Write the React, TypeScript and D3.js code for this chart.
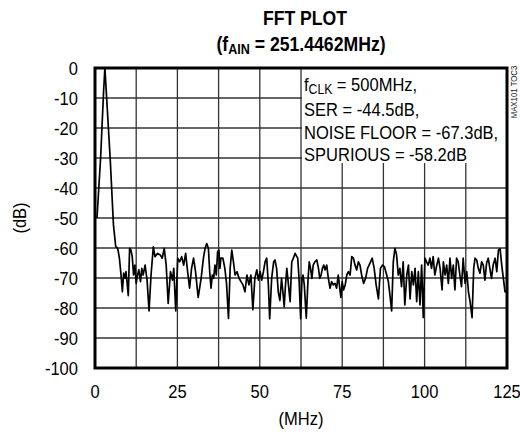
import React from "react";
import * as d3 from "d3";

const freqMHz: number[] = [
  0.6, 1.7, 2.6, 3.0, 4.6, 5.6, 6.3, 6.9, 7.4, 7.9, 8.3, 8.7, 9.1, 9.4, 9.7, 10.1, 10.5, 10.9, 11.3, 11.7,
  12.1, 12.5, 12.9, 13.3, 13.8, 14.2, 14.6, 15.2, 15.8, 16.4, 17.0, 17.7, 18.2, 19.0, 19.8, 20.4, 21.0, 21.6,
  22.2, 22.9, 23.5, 23.9, 24.5, 25.1, 25.7, 26.3, 26.9, 27.5, 28.1, 28.7, 29.3, 29.9, 30.5, 31.3, 32.2, 32.9,
  33.4, 33.9, 34.4, 34.8, 35.2, 35.6, 36.0, 36.4, 36.8, 37.2, 37.6, 37.9, 38.2, 38.8, 39.4, 39.9, 40.5, 41.0,
  41.5, 42.0, 42.5, 43.1, 43.7, 44.3, 44.9, 45.5, 46.1, 46.7, 47.3, 47.9, 48.5, 49.1, 49.6, 50.1, 50.6, 51.1,
  51.6, 52.1, 52.6, 53.0, 53.6, 54.2, 54.6, 55.1, 55.6, 56.1, 56.6, 57.1, 57.4, 57.8, 58.2, 58.6, 59.2, 59.7,
  60.2, 60.7, 61.5, 61.9, 62.4, 62.8, 63.1, 63.5, 64.1, 64.6, 65.0, 65.4, 65.8, 66.2, 66.7, 67.3, 67.8, 68.2,
  68.6, 69.0, 69.4, 69.8, 70.3, 70.8, 71.3, 71.8, 72.3, 72.8, 73.3, 73.8, 74.2, 74.6, 75.0, 75.4, 75.9, 76.4,
  76.9, 77.4, 77.9, 78.4, 78.9, 79.4, 79.9, 80.4, 80.9, 81.5, 82.1, 82.7, 83.4, 84.1, 84.7, 85.3, 86.0, 86.6,
  87.2, 87.8, 88.5, 89.0, 89.6, 90.0, 90.5, 91.0, 91.5, 92.0, 92.5, 93.0, 93.5, 94.0, 94.6, 95.1, 95.6, 96.1,
  96.6, 97.1, 97.6, 98.1, 98.6, 99.1, 99.6, 100.1, 100.6, 101.1, 101.6, 102.1, 102.6, 103.1, 103.7, 104.2,
  104.7, 105.3, 105.7, 106.2, 106.7, 107.2, 107.7, 108.2, 108.7, 109.2, 109.7, 110.2, 110.7, 111.2, 111.7,
  112.3, 112.8, 113.3, 113.8, 114.4, 114.9, 115.3, 115.8, 116.3, 116.8, 117.3, 117.8, 118.3, 118.8, 119.3,
  119.8, 120.3, 120.8, 121.4, 121.9, 122.4, 122.9, 123.4, 123.9, 124.4, 125.0,
];

const levelDb: number[] = [
  -50, -30, -8, 0, -30, -52.3, -59.6, -60.1, -63.4, -69.0, -74.6, -68.4, -70.1, -67.9, -71.2, -75.9, -60.1, -60.7, -62.9, -69.0,
  -65.7, -71.8, -69.0, -67.3, -71.2, -66.8, -69.0, -65.7, -70.7, -81.0, -69.0, -59.6, -62.9, -61.8, -62.3, -63.4, -60.1, -65.7,
  -78.5, -67.9, -70.7, -66.8, -81.0, -63.4, -64.6, -62.9, -65.7, -61.8, -67.9, -73.4, -66.8, -63.4, -67.9, -76.5, -70.1, -63.4,
  -60.1, -58.5, -60.1, -67.9, -73.4, -69.0, -70.1, -65.7, -69.0, -61.2, -60.7, -66.8, -63.4, -63.4, -66.8, -71.8, -83.5, -66.8,
  -60.7, -64.6, -69.0, -67.9, -70.1, -71.2, -72.3, -74.6, -69.0, -72.3, -69.0, -80.6, -70.1, -67.3, -70.7, -67.9, -70.7, -67.9,
  -64.6, -63.4, -72.3, -83.6, -70.1, -64.6, -64.0, -66.8, -74.6, -77.5, -70.1, -75.7, -79.6, -72.3, -66.8, -71.2, -77.9, -64.6,
  -63.4, -61.8, -63.4, -70.1, -83.6, -70.1, -69.0, -72.3, -83.4, -71.2, -64.6, -66.8, -70.1, -65.7, -64.6, -64.0, -66.8, -70.1,
  -69.0, -66.8, -65.7, -67.3, -65.7, -70.1, -73.4, -71.2, -72.3, -71.8, -73.4, -69.0, -72.9, -76.5, -71.2, -74.0, -72.3, -69.0,
  -67.9, -69.0, -62.9, -63.4, -65.7, -67.3, -64.6, -65.7, -69.0, -71.8, -70.1, -66.8, -65.1, -63.4, -66.8, -72.3, -77.0, -66.8,
  -65.7, -66.2, -69.0, -71.2, -76.8, -81.0, -64.6, -60.1, -62.3, -69.0, -66.8, -72.9, -64.6, -79.0, -69.0, -65.7, -77.0, -67.9,
  -72.3, -66.8, -77.9, -67.9, -79.0, -65.7, -83.2, -63.4, -64.6, -65.7, -63.4, -66.8, -62.9, -69.0, -65.7, -63.4,
  -66.8, -74.0, -64.6, -69.0, -65.7, -71.8, -63.4, -70.1, -65.7, -74.0, -63.4, -64.6, -69.0, -72.9, -63.4,
  -71.8, -67.9, -74.6, -77.9, -83.2, -66.8, -63.4, -64.0, -66.8, -68.4, -64.6, -65.7, -70.7, -65.1, -63.4,
  -66.8, -70.1, -65.7, -63.4, -67.9, -60.7, -60.2, -65.7, -70.1, -74.6, -74.0,
];

const xTicks: number[] = [0, 25, 50, 75, 100, 125];
const yTicks: number[] = [0, -10, -20, -30, -40, -50, -60, -70, -80, -90, -100];
const xGrid: number[] = [12.5, 25, 37.5, 50, 62.5, 75, 87.5, 100, 112.5];
const yGrid: number[] = [-10, -20, -30, -40, -50, -60, -70, -80, -90];

const FONT = "'Liberation Sans', Arial, sans-serif";
const SX = 0.87;

function T(props: {
  x: number; y: number; anchor?: "start" | "middle" | "end"; size: number; bold?: boolean;
  rotate?: number; sx?: number; dy?: string; fill?: string; children: React.ReactNode;
}) {
  const { x, y, anchor = "start", size, bold, rotate = 0, sx = SX, dy, fill = "#000", children } = props;
  return (
    <text
      transform={`translate(${x},${y}) rotate(${rotate}) scale(${sx},1)`}
      textAnchor={anchor}
      fontSize={size}
      fontWeight={bold ? "bold" : "normal"}
      dy={dy}
      fill={fill}
    >
      {children}
    </text>
  );
}

export default function App() {
  const W = 520, H = 435;
  const left = 95, right = 507, top = 68, bottom = 368;
  const x = d3.scaleLinear().domain([0, 125]).range([left, right]);
  const y = d3.scaleLinear().domain([-100, 0]).range([bottom, top]);
  const pts: [number, number][] = freqMHz.map((f, i) => [f, levelDb[i]]);
  const line = d3.line<[number, number]>().x(d => x(d[0])).y(d => y(d[1]));
  const boxX = x(62.5) + 1;
  const boxBottom = y(-30) + 5;
  const tx = boxX + 2;

  return (
    <svg width={W} height={H} style={{ position: "absolute", left: 0, top: 0, background: "#fff" }} fontFamily={FONT}>
      <rect x={0} y={0} width={W} height={H} fill="#fff" />
      <T x={305} y={25} anchor="middle" size={21} bold sx={0.84}>FFT PLOT</T>
      <T x={301} y={51} anchor="middle" size={21} bold sx={0.84}>
        (f<tspan fontSize={15} dy={3}>AIN</tspan><tspan dy={-3}> = 251.4462MHz)</tspan>
      </T>
      {xGrid.map(g => (
        <line key={"vx" + g} x1={x(g)} x2={x(g)} y1={top} y2={bottom} stroke="#333" strokeWidth={1.3} />
      ))}
      {yGrid.map(g => (
        <line key={"hy" + g} x1={left} x2={right} y1={y(g)} y2={y(g)} stroke="#333" strokeWidth={1.3} />
      ))}
      <rect x={boxX} y={top} width={right - boxX} height={boxBottom - top} fill="#fff" />
      <path d={line(pts) || ""} fill="none" stroke="#000" strokeWidth={1.7} strokeLinejoin="round" />
      <rect x={left} y={top} width={right - left} height={bottom - top} fill="none" stroke="#000" strokeWidth={3} />
      <T x={tx} y={91} size={19}>f<tspan fontSize={14} dy={3}>CLK</tspan><tspan dy={-3}> = 500MHz,</tspan></T>
      <T x={tx} y={116} size={19}>SER = -44.5dB,</T>
      <T x={tx} y={139} size={19}>NOISE FLOOR = -67.3dB,</T>
      <T x={tx} y={161} size={19}>SPURIOUS = -58.2dB</T>
      {yTicks.map(t => (
        <T key={"yt" + t} x={78} y={y(t)} dy="0.35em" anchor="end" size={19}>{t}</T>
      ))}
      {xTicks.map(t => (
        <T key={"xt" + t} x={x(t)} y={398} anchor="middle" size={19}>{t}</T>
      ))}
      <T x={301} y={425} anchor="middle" size={19}>(MHz)</T>
      <T x={26} y={218} anchor="middle" size={19} rotate={-90}>(dB)</T>
      <T x={517} y={92} anchor="middle" size={9} rotate={-90} fill="#222">MAX101 TOC3</T>
    </svg>
  );
}
